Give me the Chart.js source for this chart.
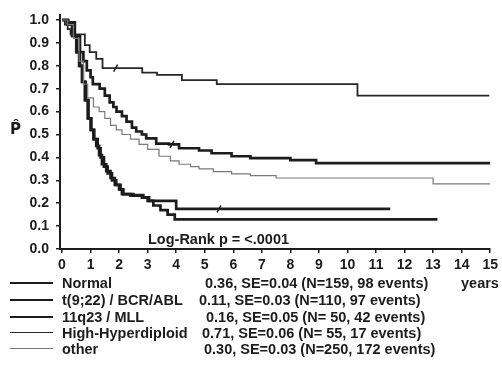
<!DOCTYPE html>
<html>
<head>
<meta charset="utf-8">
<script src="https://cdn.jsdelivr.net/npm/chart.js@4.4.1/dist/chart.umd.min.js"></script>
<style>
  body { margin: 0; background: #fff; }
  #wrap { position: relative; width: 502px; height: 367px; font-family: "Liberation Sans", Arial, sans-serif; font-weight: bold; color: #1c1c1c; }
  canvas { position: absolute; left: 0; top: 0; }
  .txt { position: absolute; font-size: 14.5px; white-space: nowrap; line-height: 16px; }
  .sample { position: absolute; left: 10px; width: 43px; }
</style>
</head>
<body>
<div id="wrap">
  <canvas id="km" width="502" height="367"></canvas>
  <div class="txt" id="phat" style="left:10px; top:121px; font-family:'DejaVu Sans'; font-size:15px;">P̂</div>
  <div class="txt" style="left:148px; top:231px;">Log-Rank p = &lt;.0001</div>
  <div class="txt" style="left:461px; top:275px;">years</div>
  <div id="legend"></div>
</div>
<script>
// survival curves, time in years / estimated probability
var normalT = [0, 0.2, 0.45, 0.63, 0.75, 0.87, 1.0, 1.08, 1.32, 1.5, 1.67, 1.8, 1.91, 2.1, 2.26, 2.45, 2.6, 2.8, 2.95, 3.3, 3.75, 4.1, 4.8, 5.24, 5.94, 6.6, 8.0, 8.9, 15.0];
var normalS = [1.0, 0.99, 0.93, 0.86, 0.82, 0.78, 0.75, 0.72, 0.70, 0.67, 0.64, 0.62, 0.60, 0.58, 0.556, 0.53, 0.513, 0.50, 0.483, 0.46, 0.457, 0.44, 0.43, 0.418, 0.405, 0.397, 0.388, 0.375, 0.375];

var bcrT = [0, 0.2, 0.35, 0.5, 0.6, 0.7, 0.8, 0.9, 1.0, 1.1, 1.2, 1.3, 1.4, 1.55, 1.7, 1.85, 2.0, 2.1, 2.4, 2.8, 3.0, 3.2, 3.45, 3.7, 3.95, 13.15];
var bcrS = [1.0, 0.98, 0.93, 0.86, 0.80, 0.73, 0.65, 0.57, 0.52, 0.48, 0.45, 0.41, 0.37, 0.34, 0.31, 0.28, 0.26, 0.24, 0.233, 0.224, 0.21, 0.19, 0.17, 0.15, 0.129, 0.129];

var mllT = [0, 0.22, 0.38, 0.52, 0.63, 0.73, 0.83, 0.93, 1.03, 1.13, 1.25, 1.35, 1.47, 1.6, 1.75, 1.9, 2.05, 2.15, 2.5, 2.85, 3.05, 4.0, 11.5];
var mllS = [1.0, 0.98, 0.93, 0.86, 0.80, 0.73, 0.65, 0.57, 0.52, 0.48, 0.44, 0.40, 0.36, 0.33, 0.30, 0.28, 0.26, 0.24, 0.235, 0.225, 0.21, 0.175, 0.175];

var hyperT = [0, 0.1, 0.2, 0.3, 0.8, 0.97, 1.2, 1.42, 2.81, 3.33, 4.2, 5.42, 10.35, 14.97];
var hyperS = [1.0, 0.98, 0.96, 0.937, 0.89, 0.86, 0.83, 0.79, 0.77, 0.76, 0.737, 0.72, 0.67, 0.67];

var otherT = [0, 0.2, 0.4, 0.6, 0.75, 0.9, 1.1, 1.3, 1.5, 1.7, 1.9, 2.1, 2.4, 2.7, 3.0, 3.4, 3.8, 4.1, 4.5, 4.8, 5.3, 5.94, 6.6, 7.5, 13.0, 15.0];
var otherS = [1.0, 0.98, 0.92, 0.82, 0.72, 0.66, 0.62, 0.60, 0.57, 0.54, 0.52, 0.50, 0.48, 0.457, 0.435, 0.405, 0.385, 0.37, 0.36, 0.35, 0.338, 0.328, 0.32, 0.31, 0.284, 0.284];

// censoring marks
var censorT = [1.88, 3.85, 5.5];
var censorS = [0.79, 0.457, 0.175];

var xTicks = [0, 1, 2, 3, 4, 5, 6, 7, 8, 9, 10, 11, 12, 13, 14, 15];
var yTicks = [0, 0.1, 0.2, 0.3, 0.4, 0.5, 0.6, 0.7, 0.8, 0.9, 1.0];

var groups = ['Normal', 't(9;22) / BCR/ABL', '11q23 / MLL', 'High-Hyperdiploid', 'other'];
var stats = ['0.36, SE=0.04 (N=159, 98 events)', '0.11, SE=0.03 (N=110, 97 events)', '0.16, SE=0.05 (N= 50, 42 events)', '0.71, SE=0.06 (N= 55, 17 events)', '0.30, SE=0.03 (N=250, 172 events)'];

var ink = '#1c1c1c';

function pts(t, s) {
  return t.map(function (v, i) { return { x: v, y: s[i] }; });
}

function curve(t, s, color, width) {
  return {
    data: pts(t, s),
    borderColor: color,
    borderWidth: width,
    pointRadius: 0,
    stepped: true,
    fill: false
  };
}

var tickFont = { family: 'Liberation Sans', size: 14, weight: 'bold' };

var ctx = document.getElementById('km').getContext('2d');
var chart = new Chart(ctx, {
  type: 'line',
  data: {
    datasets: [
      curve(otherT, otherS, '#7a7a7a', 1.2),
      curve(hyperT, hyperS, '#262626', 1.8),
      curve(normalT, normalS, ink, 2.7),
      curve(bcrT, bcrS, ink, 2.7),
      curve(mllT, mllS, ink, 2.7),
      {
        type: 'scatter',
        data: pts(censorT, censorS),
        pointStyle: 'line',
        rotation: -60,
        radius: 4,
        borderColor: ink,
        borderWidth: 1.5,
        showLine: false
      }
    ]
  },
  options: {
    responsive: false,
    animation: false,
    layout: { padding: { top: 12, right: 8, left: 0, bottom: 0 } },
    plugins: { legend: { display: false }, tooltip: { enabled: false } },
    scales: {
      x: {
        type: 'linear',
        min: -0.07,
        max: 15,
        afterBuildTicks: function (s) { s.ticks = xTicks.map(function (v) { return { value: v }; }); },
        afterFit: function (s) { s.height = 118; },
        border: { color: ink, width: 2 },
        grid: { drawOnChartArea: false, color: ink, tickLength: 4, lineWidth: 1.5 },
        ticks: { color: ink, padding: 4, maxRotation: 0, font: tickFont }
      },
      y: {
        min: 0,
        max: 1.02,
        afterBuildTicks: function (s) { s.ticks = yTicks.map(function (v) { return { value: v }; }); },
        afterFit: function (s) { s.width = 60; },
        border: { color: ink, width: 2 },
        grid: { drawOnChartArea: false, color: ink, tickLength: 4, lineWidth: 1.5 },
        ticks: {
          color: ink,
          padding: 7,
          font: tickFont,
          callback: function (v) { return v.toFixed(1); }
        }
      }
    }
  }
});

// legend below the plot
var rowsY = [283, 300, 317, 333, 349];
var statX = [205, 199, 206, 202, 204];
var sampleStyle = [
  'border-top:2px solid ' + ink,
  'border-top:2px solid ' + ink,
  'border-top:2px solid ' + ink,
  'border-top:1.5px solid #262626',
  'border-top:1px solid #7a7a7a'
];
var leg = document.getElementById('legend');
groups.forEach(function (g, i) {
  var y = rowsY[i];
  leg.insertAdjacentHTML('beforeend',
    '<div class="sample" style="top:' + (y - 1) + 'px;' + sampleStyle[i] + '"></div>' +
    '<div class="txt" style="left:62px; top:' + (y - 8) + 'px;">' + g + '</div>' +
    '<div class="txt" style="left:' + statX[i] + 'px; top:' + (y - 8) + 'px;">' + stats[i] + '</div>');
});
</script>
</body>
</html>
